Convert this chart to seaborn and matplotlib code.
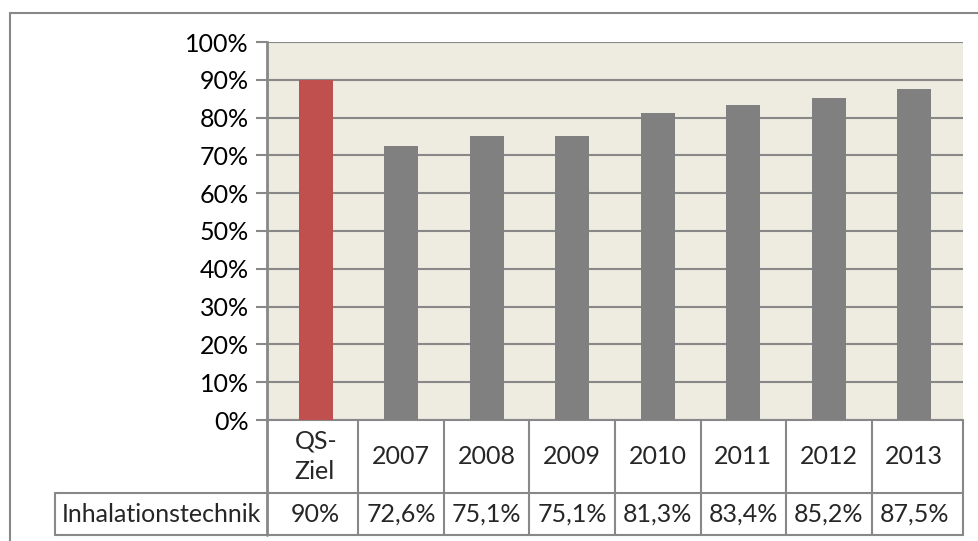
import numpy as np
import matplotlib
matplotlib.use('Agg')
import matplotlib.pyplot as plt
import matplotlib.transforms as mtransforms
from matplotlib.ticker import FuncFormatter
import seaborn as sns

categories = ['QS-\nZiel', '2007', '2008', '2009', '2010', '2011', '2012', '2013']
values = [90, 72.6, 75.1, 75.1, 81.3, 83.4, 85.2, 87.5]
value_labels = ['90%', '72,6%', '75,1%', '75,1%', '81,3%', '83,4%', '85,2%', '87,5%']
series_name = 'Inhalationstechnik'
bar_colors = ['#C0504D'] + ['#808080'] * 7

sns.set_theme(style='white')
plt.rcParams['font.family'] = ['Lato', 'DejaVu Sans']
grey = '#888888'
fs = 18

W, H = 979, 541
fig = plt.figure(figsize=(W / 100, H / 100), dpi=100)
# plot area in pixels
L, T, R, B = 267, 42, 963, 420
ax = fig.add_axes([L / W, 1 - B / H, (R - L) / W, (B - T) / H])
ax.set_facecolor('#EEECE1')

sns.barplot(x=categories, y=values, hue=categories, palette=bar_colors,
            legend=False, width=0.4, saturation=1, linewidth=0, ax=ax, zorder=3)

ax.set_ylim(0, 100)
ax.set_yticks(np.arange(0, 101, 10))
ax.yaxis.set_major_formatter(FuncFormatter(lambda v, p: f'{v:.0f}%'))
ax.yaxis.grid(True, color=grey, linewidth=1.5, zorder=0)
ax.set_axisbelow(True)
ax.tick_params(axis='y', length=8, width=1.5, color=grey, labelsize=fs,
               left=True, pad=5, labelcolor='black')
ax.tick_params(axis='x', bottom=False, labelbottom=False)
ax.set_xlabel('')
ax.set_ylabel('')
for s in ['top', 'right', 'bottom']:
    ax.spines[s].set_visible(False)
ax.spines['left'].set_color(grey)
ax.spines['left'].set_linewidth(2)
ax.spines['left'].set_bounds(0, 100)

# data table below the plot
h = B - T
y_row1 = -(493 - B) / h
y_row2 = -(535 - B) / h
x_lab = (55 - L) / (R - L)
trans = mtransforms.blended_transform_factory(ax.transData, ax.transAxes)
lkw = dict(color=grey, linewidth=1.5, clip_on=False)

ax.plot([0, 1], [0, 0], transform=ax.transAxes, **lkw)
ax.plot([x_lab, 1], [y_row1, y_row1], transform=ax.transAxes, **lkw)
ax.plot([x_lab, 1], [y_row2, y_row2], transform=ax.transAxes, **lkw)
ax.plot([0, 0], [y_row2, 0], transform=ax.transAxes, color=grey, linewidth=2, clip_on=False)
ax.plot([1, 1], [y_row2, 0], transform=ax.transAxes, **lkw)
ax.plot([x_lab, x_lab], [y_row2, y_row1], transform=ax.transAxes, **lkw)
for i in range(1, len(categories)):
    ax.plot([i - 0.5, i - 0.5], [y_row2, 0], transform=trans, **lkw)

for i, (c, v) in enumerate(zip(categories, value_labels)):
    ax.text(i, y_row1 / 2, c, transform=trans, ha='center', va='center',
            fontsize=fs, linespacing=1.4, multialignment='left')
    ax.text(i, (y_row1 + y_row2) / 2, v, transform=trans, ha='center',
            va='center', fontsize=fs)
ax.text((x_lab + 0) / 2, (y_row1 + y_row2) / 2, series_name, transform=ax.transAxes,
        ha='center', va='center', fontsize=fs)

# chart border (top and left)
fig.add_artist(plt.Line2D([10 / W, 1], [1 - 13 / H, 1 - 13 / H], color=grey, linewidth=1.5))
fig.add_artist(plt.Line2D([10 / W, 10 / W], [0, 1 - 13 / H], color=grey, linewidth=1.5))

fig.savefig('out.png', dpi=100, facecolor='white')
